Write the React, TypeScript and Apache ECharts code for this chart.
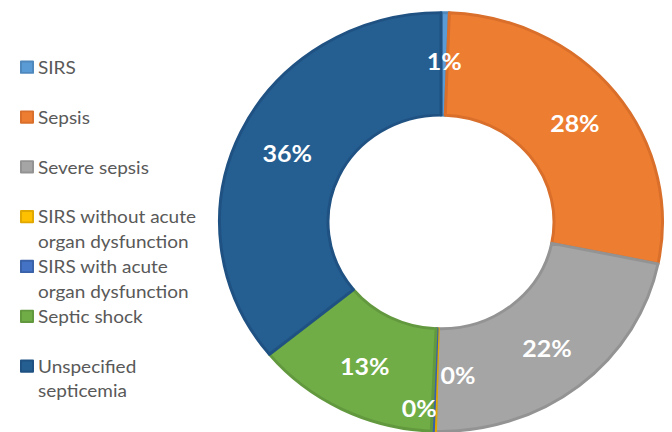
import React, { useEffect, useRef } from "react";
import * as echarts from "echarts";

const categories = [
  "SIRS",
  "Sepsis",
  "Severe sepsis",
  "SIRS without acute organ dysfunction",
  "SIRS with acute organ dysfunction",
  "Septic shock",
  "Unspecified septicemia",
];
const values = [0.6, 27.6, 22.2, 0.15, 0.15, 13.4, 35.9];
const legendLines = [
  "SIRS",
  "Sepsis",
  "Severe sepsis",
  "SIRS without acute\norgan dysfunction",
  "SIRS with acute\norgan dysfunction",
  "Septic shock",
  "Unspecified\nsepticemia",
];

const colors = ["#5B9BD5", "#ED7D31", "#A5A5A5", "#FFC000", "#4472C4", "#70AD47", "#255E91"];
const borderColors = ["#4F88BC", "#D96F2A", "#939393", "#E0A800", "#3A62A8", "#63993E", "#1F5283"];

const SQUISH = 0.9453;
const LINE_H = 26;

export default function App() {
  const ref = useRef<HTMLDivElement>(null);
  useEffect(() => {
    if (!ref.current) return;
    const chart = echarts.init(ref.current, undefined, { renderer: "svg" });

    const labelOffsets: Record<number, number[]> = { 3: [22, -8.5], 4: [-15, 26.4] };

    const legends = categories.map((name, i) => {
      const two = legendLines[i].includes("\n");
      const centerY = 71.1 + i * 52.7;
      return {
        orient: "vertical",
        left: 20,
        top: two ? centerY - LINE_H * 1.5 : centerY - LINE_H / 2,
        padding: 0,
        itemWidth: 12,
        itemHeight: 12,
        icon: "rect",
        selectedMode: false,
        data: [name],
        formatter: () => (two ? "\n" + legendLines[i] : legendLines[i]),
        textStyle: {
          fontFamily: "Lato",
          fontSize: 19,
          color: "#595959",
          lineHeight: LINE_H,
        },
      };
    });

    chart.setOption({
      animation: false,
      color: colors,
      legend: legends,
      series: [
        {
          type: "pie",
          center: [441, 234.8],
          radius: [113, 221.5],
          startAngle: 90,
          clockwise: true,
          avoidLabelOverlap: false,
          label: {
            show: true,
            position: "inside",
            formatter: (p: any) => Math.round(p.percent) + "%",
            color: "#ffffff",
            fontFamily: "Lato",
            fontWeight: "bold",
            fontSize: 25,
          },
          labelLine: { show: false },
          data: categories.map((name, i) => ({
            name,
            value: values[i],
            itemStyle: { color: colors[i], borderColor: borderColors[i], borderWidth: 3, borderJoin: "round" },
            label: labelOffsets[i] ? { offset: labelOffsets[i] } : undefined,
          })),
        },
      ],
    });
    return () => chart.dispose();
  }, []);

  return (
    <div style={{ position: "fixed", left: 0, top: 0, width: 672, height: 432, overflow: "hidden", background: "#fff" }}>
      <div
        ref={ref}
        style={{ width: 672, height: 457, transform: `scaleY(${SQUISH})`, transformOrigin: "0 0" }}
      />
    </div>
  );
}
